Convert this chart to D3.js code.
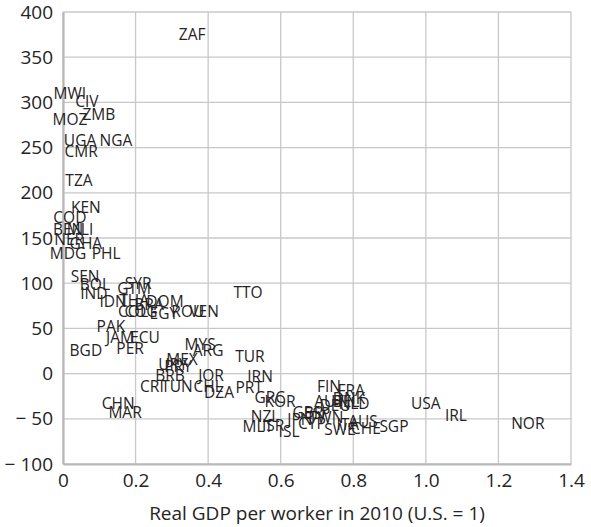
<!DOCTYPE html>
<html>
<head>
<meta charset="utf-8">
<script src="https://cdn.jsdelivr.net/npm/d3@7"></script>
<style>
  html, body { margin: 0; padding: 0; background: #fff; }
  svg { display: block; }
  text { font-family: "Open Sans", "Noto Sans", sans-serif; fill: #262324; }
</style>
</head>
<body>
<svg id="chart" width="591" height="527"></svg>
<script>
// Country codes (labels drawn at each point)
const countries = ["ZAF","MWI","CIV","MOZ","ZMB","UGA","NGA","CMR","TZA","KEN","COD","BEN","MLI","NER","GHA","MDG","PHL",
  "SEN","BOL","IND","GTM","SYR","IDN","THA","BRA","DOM","COL","COG","EGY","ROU","VEN","TTO",
  "PAK","JAM","ECU","PER","BGD","MYS","ARG","TUR","MEX","URY","PRY","BRB","JOR","IRN","CRI","TUN","CHL","DZA","PRT",
  "GRC","KOR","FIN","FRA","DNK","AUT","DEU","NLD","BEL","GBR","ESP","TWN","JPN","NZL","MLT","ISR","ISL","CYP","ITA",
  "SWE","AUS","CHE","SGP","USA","IRL","NOR","CHN","MAR"];
// Real GDP per worker in 2010 (U.S. = 1)
const gdpPerWorker = [0.356,0.019,0.066,0.019,0.099,0.047,0.146,0.050,0.044,0.063,0.019,0.014,0.047,0.017,0.063,0.014,0.119,
  0.061,0.088,0.085,0.196,0.207,0.138,0.196,0.237,0.281,0.193,0.215,0.278,0.344,0.389,0.510,
  0.132,0.157,0.226,0.185,0.063,0.378,0.400,0.515,0.328,0.303,0.317,0.295,0.408,0.543,0.245,0.314,0.400,0.430,0.513,
  0.570,0.598,0.733,0.794,0.788,0.733,0.750,0.802,0.780,0.675,0.700,0.725,0.653,0.557,0.537,0.579,0.623,0.686,0.785,
  0.763,0.827,0.835,0.912,1.000,1.083,1.281,0.152,0.171];
// Vertical-axis values
const yValues = [376,310,301,282,287,258,258,246,214,184,173,160,160,149,144,133,133,
  108,99,89,95,100,80,81,77,80,69,69,67,69,69,90,
  53,40,40,28,26,33,26,19,16,11,8,-2,-2,-3,-14,-14,-14,-20,-15,
  -26,-30,-14,-18,-27,-30,-35,-33,-30,-42,-44,-48,-50,-47,-58,-57,-63,-55,-56,
  -61,-52,-60,-58,-33,-46,-55,-33,-42];

const xTicks = [0, 0.2, 0.4, 0.6, 0.8, 1.0, 1.2, 1.4];
const xTickLabels = ["0","0.2","0.4","0.6","0.8","1.0","1.2","1.4"];
const yTicks = [-100, -50, 0, 50, 100, 150, 200, 250, 300, 350, 400];
const yTickLabels = ["\u2212100","\u221250","0","50","100","150","200","250","300","350","400"];
const xTitle = "Real GDP per worker in 2010 (U.S. = 1)";

const svg = d3.select("#chart");
const mLeft = 63, mRight = 571, mTop = 12, mBottom = 464;

const x = d3.scaleLinear().domain([0, 1.4]).range([mLeft, mRight]);
const y = d3.scaleLinear().domain([-100, 400]).range([mBottom, mTop]);

// grid
const grid = svg.append("g");
grid.selectAll("line.v").data(xTicks).join("line")
  .attr("x1", d => x(d)).attr("x2", d => x(d))
  .attr("y1", mTop).attr("y2", mBottom)
  .attr("stroke", "#c8c8c8").attr("stroke-width", 1.3);
grid.selectAll("line.h").data(yTicks).join("line")
  .attr("x1", mLeft).attr("x2", mRight)
  .attr("y1", d => y(d)).attr("y2", d => y(d))
  .attr("stroke", "#c8c8c8").attr("stroke-width", 1.3);

// axes
const xAxis = d3.axisBottom(x).tickValues(xTicks).tickFormat((d, i) => xTickLabels[i]).tickSize(0).tickPadding(10);
const yAxis = d3.axisLeft(y).tickValues(yTicks).tickFormat((d, i) => yTickLabels[i]).tickSize(0).tickPadding(10);

const gx = svg.append("g").attr("transform", `translate(0,${mBottom})`).call(xAxis);
const gy = svg.append("g").attr("transform", `translate(${mLeft},0)`).call(yAxis);
[gx, gy].forEach(g => {
  g.select(".domain").attr("stroke", "#b8b8b8").attr("stroke-width", 2.2);
  g.selectAll("text").attr("font-size", 19).attr("fill", "#262324")
    .attr("font-family", '"Open Sans", "Noto Sans", sans-serif');
});
// negative tick labels: a little gap after the minus sign, text unchanged
gy.selectAll(".tick text").each(function () {
  const t = d3.select(this);
  const s = t.text();
  if (s.startsWith("\u2212")) {
    t.text(null);
    t.append("tspan").text("\u2212");
    t.append("tspan").attr("dx", 5).text(s.slice(1));
  }
});

// labels
const pts = countries.map((c, i) => ({ c, gx: gdpPerWorker[i], gy: yValues[i] }));
svg.append("g").selectAll("text").data(pts).join("text")
  .attr("x", d => x(d.gx)).attr("y", d => y(d.gy))
  .attr("text-anchor", "middle").attr("dominant-baseline", "central")
  .attr("font-size", 15.5)
  .text(d => d.c);

// axis title
svg.append("text")
  .attr("x", (mLeft + mRight) / 2).attr("y", 513)
  .attr("text-anchor", "middle").attr("dominant-baseline", "central")
  .attr("font-size", 19)
  .text(xTitle);
</script>
</body>
</html>
